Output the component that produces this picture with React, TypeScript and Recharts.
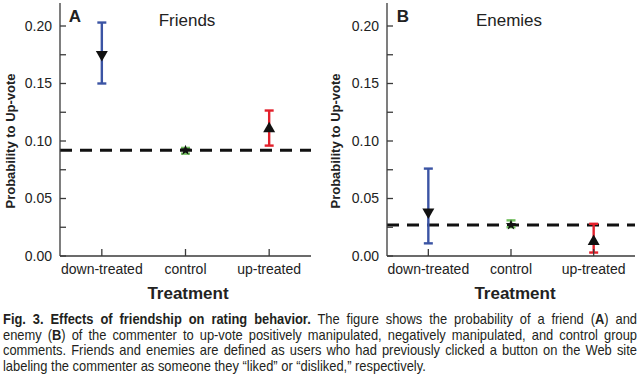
import React from "react";
import {
  ErrorBar,
  ReferenceLine,
  Scatter,
  ScatterChart,
  XAxis,
  YAxis,
} from "recharts";

// Treatment groups on the x axis, in plotting order
const treatments = ["down-treated", "control", "up-treated"];
const yTicks = [0, 0.025, 0.05, 0.075, 0.1, 0.125, 0.15, 0.175, 0.2];

// Panel A - friends of the commenter
const friendsMean = [0.174, 0.092, 0.112];
const friendsLow = [0.15, 0.089, 0.096];
const friendsHigh = [0.203, 0.094, 0.1265];
const friendsBaseline = 0.092;

// Panel B - enemies of the commenter
const enemiesMean = [0.037, 0.027, 0.014];
const enemiesLow = [0.011, 0.025, 0.003];
const enemiesHigh = [0.076, 0.031, 0.028];
const enemiesBaseline = 0.027;

const barColors = ["#3b54a4", "#72c05e", "#e3202b"];
const FONT = '"Liberation Sans", Arial, Helvetica, sans-serif';
const AXIS = "#3a3a3a";

// marker shapes: down triangle, star, up triangle
function DownTriangle(props: any) {
  const { cx, cy } = props;
  return <path d={`M${cx - 6},${cy - 5} L${cx + 6},${cy - 5} L${cx},${cy + 5.5} Z`} fill="#111" />;
}
function UpTriangle(props: any) {
  const { cx, cy } = props;
  return <path d={`M${cx - 6},${cy + 5} L${cx + 6},${cy + 5} L${cx},${cy - 5.5} Z`} fill="#111" />;
}
function Star(props: any) {
  const { cx, cy } = props;
  const pts: string[] = [];
  for (let i = 0; i < 10; i++) {
    const r = i % 2 === 0 ? 5.5 : 2.3;
    const a = -Math.PI / 2 + (i * Math.PI) / 5;
    pts.push(`${cx + r * Math.cos(a)},${cy + r * Math.sin(a)}`);
  }
  return <polygon points={pts.join(" ")} fill="#111" />;
}
const shapes = [DownTriangle, Star, UpTriangle];

const fmtY = (v: number) => (Math.round(v * 1000) % 50 === 0 ? v.toFixed(2) : "");

interface PanelProps {
  letter: string;
  title: string;
  mean: number[];
  low: number[];
  high: number[];
  baseline: number;
  left: number;
  marginLeft: number;
  marginRight: number;
  titleX: number;
  letterX: number;
}

function Panel(p: PanelProps) {
  const tickStyle = { fontSize: 14, fill: "#222", fontFamily: FONT };
  return (
    <div style={{ position: "absolute", left: p.left, top: 0, width: 320, height: 300 }}>
      <ScatterChart
        width={320}
        height={300}
        margin={{ top: 3, right: p.marginRight, bottom: 0, left: p.marginLeft }}
      >
        <XAxis
          xAxisId="x"
          type="number"
          dataKey="x"
          domain={[0.5, 3.5]}
          ticks={[1, 2, 3]}
          interval={0}
          height={44}
          tickSize={-7}
          tickMargin={15}
          tickFormatter={(v: number) => treatments[v - 1]}
          tick={tickStyle}
          stroke={AXIS}
          strokeWidth={1.3}
        />
        <XAxis
          xAxisId="xt"
          orientation="top"
          type="number"
          domain={[0.5, 3.5]}
          ticks={[1, 2, 3]}
          interval={0}
          height={0}
          tickSize={-7}
          tickFormatter={() => ""}
          stroke={AXIS}
          strokeWidth={1.3}
        />
        <YAxis
          yAxisId="y"
          type="number"
          domain={[0, 0.22]}
          ticks={yTicks}
          interval={0}
          width={60}
          tickSize={-6}
          tickMargin={14}
          tickFormatter={fmtY}
          tick={tickStyle}
          stroke={AXIS}
          strokeWidth={1.3}
        />
        <YAxis
          yAxisId="yr"
          orientation="right"
          type="number"
          domain={[0, 0.22]}
          ticks={yTicks}
          interval={0}
          width={0}
          tickSize={-6}
          tickFormatter={() => ""}
          stroke={AXIS}
          strokeWidth={1.3}
        />
        <ReferenceLine
          xAxisId="x"
          yAxisId="y"
          y={p.baseline}
          stroke="#111"
          strokeWidth={3}
          strokeDasharray="12 8"
        />
        {treatments.map((t, i) => (
          <Scatter
            key={t}
            xAxisId="x"
            yAxisId="y"
            data={[{ x: i + 1, y: p.mean[i], err: [p.mean[i] - p.low[i], p.high[i] - p.mean[i]] }]}
            dataKey="y"
            shape={shapes[i]}
            isAnimationActive={false}
          >
            <ErrorBar dataKey="err" direction="y" width={4.5} stroke={barColors[i]} strokeWidth={2.4} />
          </Scatter>
        ))}
      </ScatterChart>
      <div
        style={{
          position: "absolute",
          left: p.left === 0 ? 10 : 15,
          top: 141,
          transform: "translate(-50%, -50%) rotate(-90deg)",
          whiteSpace: "nowrap",
          fontFamily: FONT,
          fontWeight: "bold",
          fontSize: 13,
          lineHeight: 1,
          color: "#222",
        }}
      >
        Probability to Up-vote
      </div>
      <div
        style={{
          position: "absolute",
          left: p.letterX,
          top: 16,
          transform: "translate(-50%, -50%)",
          fontFamily: FONT,
          fontWeight: "bold",
          fontSize: 17,
          lineHeight: 1,
          color: "#222",
        }}
      >
        {p.letter}
      </div>
      <div
        style={{
          position: "absolute",
          left: p.titleX,
          top: 20,
          transform: "translate(-50%, -50%)",
          whiteSpace: "nowrap",
          fontFamily: FONT,
          fontSize: 17,
          lineHeight: 1,
          color: "#222",
        }}
      >
        {p.title}
      </div>
      <div
        style={{
          position: "absolute",
          left: p.left === 0 ? 188 : 195,
          top: 293,
          transform: "translate(-50%, -50%)",
          whiteSpace: "nowrap",
          fontFamily: FONT,
          fontWeight: "bold",
          fontSize: 17,
          lineHeight: 1,
          color: "#222",
        }}
      >
        Treatment
      </div>
    </div>
  );
}

// caption set in a condensed look: Liberation Sans squeezed horizontally
const CAPTION_SCALE = 0.86;
const CAPTION_WIDTH = 634;

function CaptionLine({ children, last }: { children: React.ReactNode; last?: boolean }) {
  return (
    <div
      style={{
        width: CAPTION_WIDTH / CAPTION_SCALE,
        transform: `scaleX(${CAPTION_SCALE})`,
        transformOrigin: "0 0",
        textAlign: last ? "left" : "justify",
        textAlignLast: last ? "left" : "justify",
        whiteSpace: last ? "nowrap" : "normal",
        height: 15.6,
      }}
    >
      {children}
    </div>
  );
}

export default function App() {
  return (
    <div
      style={{
        position: "absolute",
        left: 0,
        top: 0,
        width: 640,
        height: 385,
        background: "#fff",
        overflow: "hidden",
      }}
    >
      <Panel
        letter="A"
        title="Friends"
        mean={friendsMean}
        low={friendsLow}
        high={friendsHigh}
        baseline={friendsBaseline}
        left={0}
        marginLeft={0}
        marginRight={9}
        titleX={187}
        letterX={75}
      />
      <Panel
        letter="B"
        title="Enemies"
        mean={enemiesMean}
        low={enemiesLow}
        high={enemiesHigh}
        baseline={enemiesBaseline}
        left={320}
        marginLeft={7}
        marginRight={5}
        titleX={189}
        letterX={83}
      />
      <div
        style={{
          position: "absolute",
          left: 3,
          top: 311,
          width: CAPTION_WIDTH,
          fontFamily: FONT,
          fontSize: 15,
          lineHeight: "15.6px",
          color: "#231f20",
        }}
      >
        <CaptionLine>
          <b>Fig. 3. Effects of friendship on rating behavior.</b> The figure shows the probability of a friend (<b>A</b>) and
        </CaptionLine>
        <CaptionLine>
          enemy (<b>B</b>) of the commenter to up-vote positively manipulated, negatively manipulated, and control group
        </CaptionLine>
        <CaptionLine>
          comments. Friends and enemies are defined as users who had previously clicked a button on the Web site
        </CaptionLine>
        <CaptionLine last>
          labeling the commenter as someone they “liked” or “disliked,” respectively.
        </CaptionLine>
      </div>
    </div>
  );
}
